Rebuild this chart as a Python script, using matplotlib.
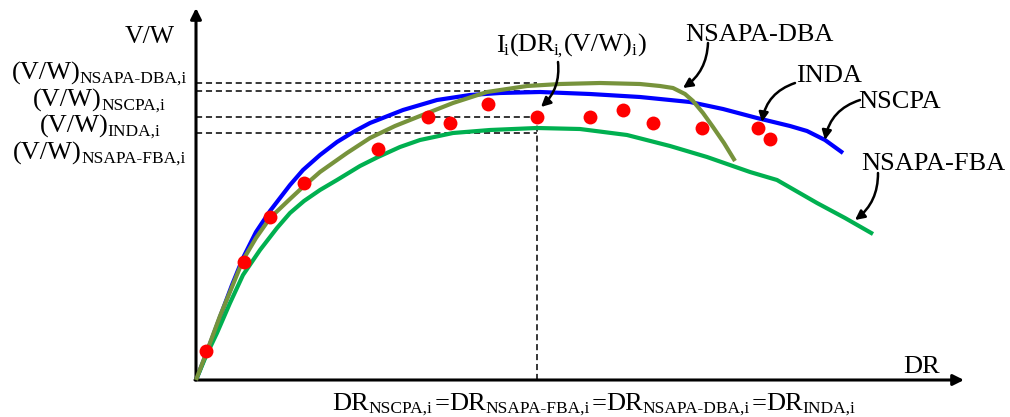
import matplotlib
matplotlib.use("Agg")
import matplotlib.pyplot as plt
from matplotlib import font_manager
from matplotlib.ft2font import FT2Font
try:
    from matplotlib.ft2font import LoadFlags
    NOHINT = LoadFlags.NO_HINTING
except ImportError:  # older matplotlib
    from matplotlib.ft2font import LOAD_NO_HINTING as NOHINT

plt.rcParams['font.family'] = ['Liberation Serif', 'DejaVu Serif']

# ---- data (DR, V/W) in schematic units ----
nscpa_dr = [0, 11, 24, 36, 47, 60, 74, 84, 94, 107, 124, 141, 159, 174, 207, 241, 274, 304, 344,
            394, 444, 494, 527, 561, 594, 611, 629, 647]
nscpa_vw = [0, 28, 63, 95, 122, 148, 169, 182, 195, 210, 225, 238, 249, 257, 270, 280, 285, 287, 288,
            286, 283, 278, 271, 262, 254, 249, 240, 227]

dba_dr = [0, 11, 24, 36, 47, 60, 74, 94, 108, 124, 151, 174, 199, 224, 257, 291, 331, 364, 404,
          444, 464, 477, 489, 497, 507, 517, 528, 539]
dba_vw = [0, 29, 64, 93, 120, 142, 162, 181, 194, 208, 227, 242, 254, 264, 277, 288, 294, 296, 297,
          296, 294, 292, 286, 279, 267, 253, 237, 219]

fba_dr = [0, 10, 21, 34, 47, 64, 81, 94, 108, 124, 141, 164, 182, 204, 224, 257, 294, 341, 384,
          431, 474, 511, 554, 581, 621, 649, 677]
fba_vw = [0, 24, 47, 77, 105, 130, 152, 167, 179, 190, 200, 214, 223, 233, 240, 247, 250, 252, 251,
          245, 234, 223, 208, 200, 177, 162, 146]

inda_dr = [10, 48, 74, 108, 182, 232, 254, 292, 341, 394, 427, 457, 506, 562, 574]
inda_vw = [29, 118, 163, 197, 231, 263, 257, 276, 263, 263, 270, 257, 252, 252, 241]

dr_i = 341
vw_levels = [297, 289, 263, 247]
vw_subs = ['NSAPA-DBA,i', 'NSCPA,i', 'INDA,i', 'NSAPA-FBA,i']
dr_subs = ['NSCPA,i', 'NSAPA-FBA,i', 'NSAPA-DBA,i', 'INDA,i']

DPI = 100
fig = plt.figure(figsize=(10.10, 4.17), dpi=DPI)
ax = fig.add_axes([0, 0, 1, 1])
ax.set_xlim(-196, 814)
ax.set_ylim(-37, 380)
ax.axis('off')

FS = 19
FS_SUB = 12.5
DROP = 3
_font = FT2Font(font_manager.findfont(font_manager.FontProperties(family='Liberation Serif')))


def metrics(s, size):
    """Return (advance width, left side bearing of first glyph) in pixels."""
    _font.set_size(size, DPI)
    adv = sum(_font.load_char(ord(c), flags=NOHINT).linearHoriAdvance for c in s) / 65536.0
    lsb = _font.load_char(ord(s[0]), flags=NOHINT).horiBearingX / 64.0
    return adv, lsb


def seg_text(xc, yb, segments):
    """Typeset main/subscript segments by glyph advances, centred at xc (1 unit = 1 px)."""
    sizes = [FS_SUB if sub else FS for _, sub in segments]
    mets = [metrics(s, sz) for (s, _), sz in zip(segments, sizes)]
    x = xc - sum(m[0] for m in mets) / 2
    for (s, sub), sz, (adv, lsb) in zip(segments, sizes, mets):
        ax.text(x + lsb, yb - (DROP if sub else 0), s, fontsize=sz, ha='left', va='baseline')
        x += adv


# axes arrows
arrow_kw = dict(arrowstyle='-|>', lw=2.2, color='k', mutation_scale=16, shrinkA=0, shrinkB=0)
ax.annotate('', xy=(0, 372), xytext=(0, 0), arrowprops=arrow_kw)
ax.annotate('', xy=(768, 0), xytext=(-1, 0), arrowprops=arrow_kw)

# dashed guide lines
for lv in vw_levels:
    ax.plot([0, dr_i], [lv, lv], ls=(0, (4, 2.5)), color='k', lw=1.1, zorder=1)
ax.plot([dr_i, dr_i], [0, vw_levels[2]], ls=(0, (4, 2.5)), color='k', lw=1.1, zorder=1)

# curves
ax.plot(nscpa_dr, nscpa_vw, color='#0000FF', lw=3.0, solid_capstyle='butt', zorder=2)
ax.plot(fba_dr, fba_vw, color='#00B050', lw=3.0, solid_capstyle='butt', zorder=2)
ax.plot(dba_dr, dba_vw, color='#77933C', lw=3.0, solid_capstyle='butt', zorder=3)
ax.plot(inda_dr, inda_vw, 'o', color='#FF0000', ms=10, mec='none', zorder=4)

# texts
ax.text(-46, 337, 'V/W', fontsize=18.5, ha='center', va='baseline')
for sub, yb in zip(vw_subs, [300, 273, 247, 220]):
    seg_text(-97, yb, [('(V/W)', False), (sub, True)])

ax.text(726, 7, 'DR', fontsize=FS, ha='center', va='baseline')
bottom = []
for k, sub in enumerate(dr_subs):
    if k:
        bottom.append(('=', False))
    bottom += [('DR', False), (sub, True)]
seg_text(397, -30, bottom)

seg_text(374, 328, [('I', False), ('i', True), ('(DR', False), ('i,', True),
                    ('(V/W)', False), ('i', True), (')', False)])
ax.text(563, 339, 'NSAPA-DBA', fontsize=FS, ha='center', va='baseline')
ax.text(633, 298, 'INDA', fontsize=FS, ha='center', va='baseline')
ax.text(704, 272, 'NSCPA', fontsize=FS, ha='center', va='baseline')
ax.text(737, 210, 'NSAPA-FBA', fontsize=FS, ha='center', va='baseline')


# pointer arrows
def pointer(x0, y0, x1, y1, rad):
    ax.annotate('', xy=(x1, y1), xytext=(x0, y0),
                arrowprops=dict(arrowstyle='-|>', lw=1.8, color='k', mutation_scale=14,
                                shrinkA=0, shrinkB=0,
                                connectionstyle=f'arc3,rad={rad}'))


pointer(362, 318, 345, 273, -0.25)
pointer(512, 337, 487, 292, -0.25)
pointer(599, 297, 566, 258, 0.3)
pointer(664, 280, 629, 240, 0.3)
pointer(682, 207, 659, 160, -0.25)

fig.savefig('out.png', dpi=DPI)
